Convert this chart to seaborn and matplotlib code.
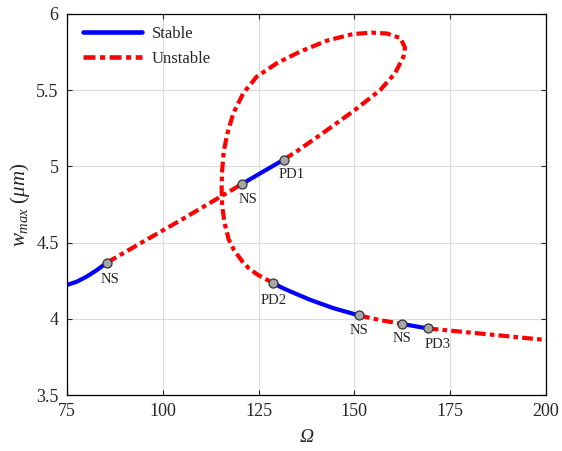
import matplotlib
matplotlib.use("Agg")
import matplotlib.pyplot as plt
import seaborn as sns
import pandas as pd

# ---- data ----
stable_1_x = [75.0, 77.5, 80.0, 82.7, 85.4]
stable_1_y = [4.222, 4.243, 4.275, 4.318, 4.368]

unstable_1_x = [85.4, 95.0, 105.0, 115.4, 120.75]
unstable_1_y = [4.368, 4.508, 4.652, 4.806, 4.886]

stable_2_x = [120.75, 126.0, 131.55]
stable_2_y = [4.886, 4.963, 5.044]

unstable_2_x = [131.55, 135.0, 141.0, 149.7, 156.7, 160.6, 162.8, 163.2, 162.0,
                158.5, 154.5, 149.5, 142.8, 135.8, 129.7, 124.5, 121.0, 118.4,
                116.9, 115.9, 115.45, 115.35, 115.5, 116.1, 117.2, 118.6, 120.8,
                122.5, 124.9, 128.8]
unstable_2_y = [5.044, 5.100, 5.205, 5.362, 5.500, 5.611, 5.720, 5.780, 5.842,
                5.872, 5.878, 5.868, 5.825, 5.753, 5.676, 5.589, 5.480, 5.348,
                5.220, 5.100, 4.960, 4.850, 4.740, 4.630, 4.520, 4.450, 4.375,
                4.330, 4.287, 4.235]

stable_3_x = [128.8, 131.0, 134.0, 138.4, 144.5, 151.2]
stable_3_y = [4.235, 4.205, 4.172, 4.125, 4.070, 4.022]

unstable_3_x = [151.2, 157.0, 162.5]
unstable_3_y = [4.022, 3.990, 3.966]

stable_4_x = [162.5, 169.1]
stable_4_y = [3.966, 3.937]

unstable_4_x = [169.1, 178.0, 186.2, 193.0, 200.0]
unstable_4_y = [3.937, 3.915, 3.895, 3.878, 3.861]

bif_labels = ["NS", "NS", "PD1", "PD2", "NS", "NS", "PD3"]
bif_x = [85.4, 120.75, 131.55, 128.8, 151.2, 162.5, 169.1]
bif_y = [4.368, 4.886, 5.044, 4.235, 4.022, 3.966, 3.937]
label_dx = [3, 6, 8, 0, 0, 0, 10]      # pixel offsets of the labels
label_dy = [-17, -16, -15, -18, -15, -15, -16]

x_ticks = [75, 100, 125, 150, 175, 200]
y_ticks = [3.5, 4, 4.5, 5, 5.5, 6]

# ---- style ----
sns.set_style("ticks")
plt.rcParams["font.family"] = ["Liberation Serif", "DejaVu Serif"]
plt.rcParams["mathtext.fontset"] = "custom"
plt.rcParams["mathtext.it"] = "Liberation Serif:italic"
plt.rcParams["mathtext.rm"] = "Liberation Serif"

fig = plt.figure(figsize=(5.62, 4.51), dpi=100)
ax = fig.add_axes([67 / 562, 1 - 395 / 451, (546 - 67) / 562, (395 - 14) / 451])

blue = "#0000ff"
red = "#ff0000"
lw = 3.0
dashdot = (0, (2.6, 1.0, 1.1, 1.0))

segments = [
    (stable_1_x, stable_1_y, True, "Stable"),
    (unstable_1_x, unstable_1_y, False, "Unstable"),
    (stable_2_x, stable_2_y, True, None),
    (unstable_2_x, unstable_2_y, False, None),
    (stable_3_x, stable_3_y, True, None),
    (unstable_3_x, unstable_3_y, False, None),
    (stable_4_x, stable_4_y, True, None),
    (unstable_4_x, unstable_4_y, False, None),
]
for xs, ys, stable, lab in segments:
    df = pd.DataFrame({"Omega": xs, "w": ys})
    line_kws = dict(color=blue if stable else red, linewidth=lw, sort=False,
                    estimator=None, ax=ax)
    if lab is not None:
        line_kws["label"] = lab
    sns.lineplot(data=df, x="Omega", y="w", **line_kws)
    ln = ax.lines[-1]
    ln.set_solid_joinstyle("round")
    ln.set_dash_joinstyle("round")
    if not stable:
        ln.set_linestyle(dashdot)

bif_df = pd.DataFrame({"Omega": bif_x, "w": bif_y})
sns.scatterplot(data=bif_df, x="Omega", y="w", ax=ax, s=42, color="#a6a6a6",
                edgecolor="#333333", linewidth=0.9, zorder=5, legend=False)

for lab, x, y, dx, dy in zip(bif_labels, bif_x, bif_y, label_dx, label_dy):
    ax.annotate(lab, (x, y), xytext=(dx, dy), textcoords="offset pixels",
                ha="center", va="center", fontsize=10.5)

ax.set_xlim(75, 200)
ax.set_ylim(3.5, 6)
ax.set_xticks(x_ticks)
ax.set_yticks(y_ticks)
ax.set_yticklabels([f"{t:g}" for t in y_ticks])
ax.grid(True, color="#dcdcdc", linewidth=0.8)
ax.set_axisbelow(True)
ax.tick_params(direction="in", top=True, right=True, length=3.5, width=0.8,
               labelsize=13, pad=6)
for s in ax.spines.values():
    s.set_linewidth(0.9)
    s.set_color("black")

ax.set_xlabel("Ω", fontsize=14, fontstyle="italic", labelpad=6)
ax.set_ylabel(r"$w_{max}\ (\mu m)$", fontsize=15, labelpad=3)

leg = ax.legend(loc="upper left", bbox_to_anchor=(0.01, 1.0), frameon=False,
                fontsize=12, handlelength=3.5, handletextpad=0.6,
                labelspacing=0.55, borderaxespad=0.4, borderpad=0.3)
for h in leg.get_lines():
    h.set_linewidth(3.3)

fig.savefig("out.png", dpi=100)
